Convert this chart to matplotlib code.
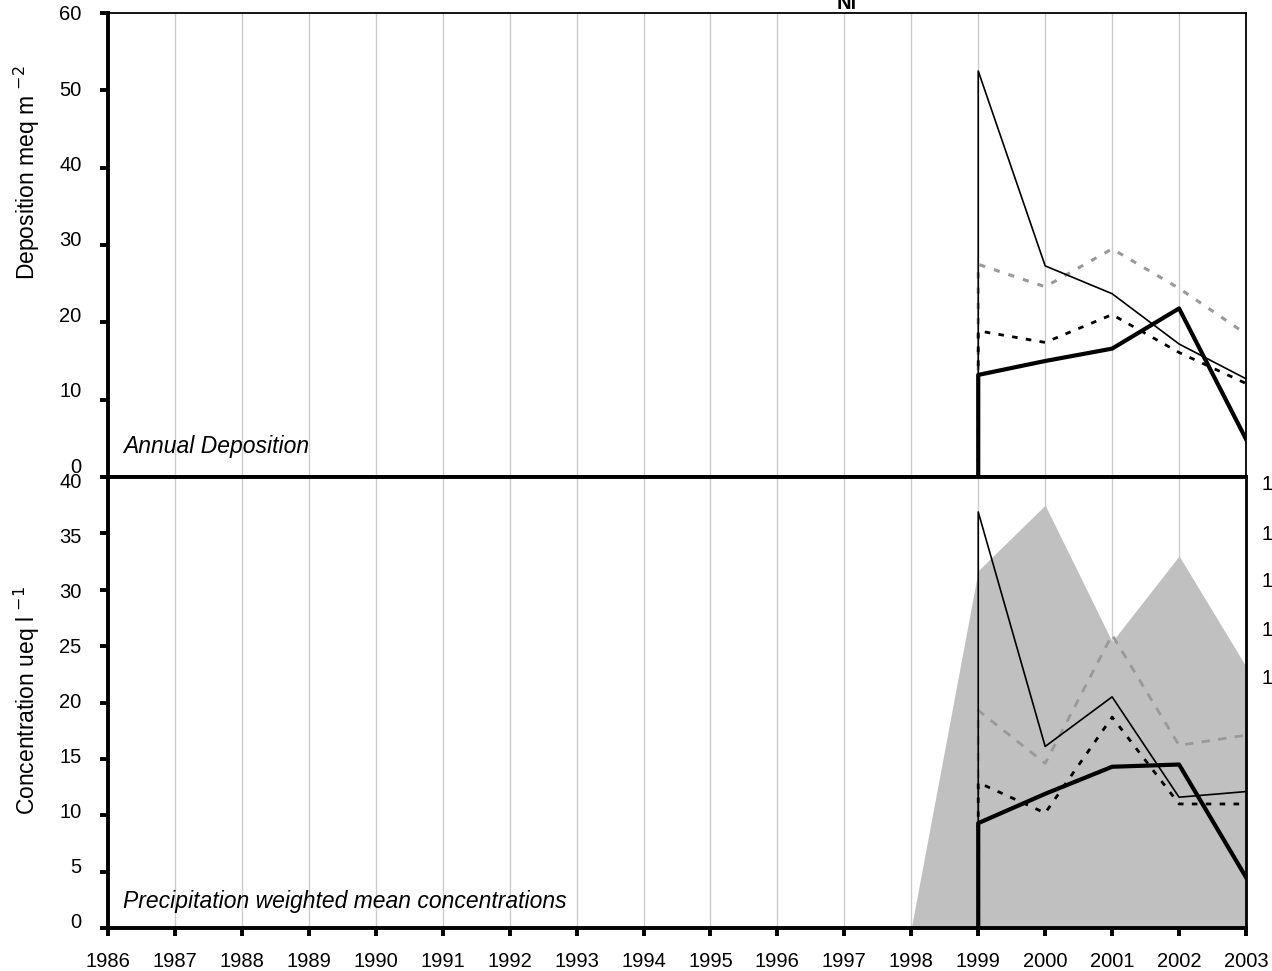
import matplotlib
matplotlib.use("Agg")
import matplotlib.pyplot as plt
from matplotlib.transforms import ScaledTranslation

plt.rcParams['font.family'] = ['Liberation Sans', 'DejaVu Sans']

years = list(range(1986, 2004))
line_years = [1999, 1999, 2000, 2001, 2002, 2003]

# Annual deposition (meq m-2)
dep_thin = [0, 52.5, 27.3, 23.7, 17.2, 12.7]
dep_thick = [0, 13.2, 15.0, 16.6, 21.8, 4.9]
dep_gray = [0, 27.5, 24.6, 29.5, 24.4, 18.5]
dep_dot = [0, 18.9, 17.4, 21.0, 16.1, 12.1]

# Concentrations (ueq l-1)
area_years = [1998, 1999, 2000, 2001, 2002, 2003]
conc_area = [0, 31.7, 37.5, 25.4, 33.0, 23.2]
conc_thin = [0, 36.9, 16.1, 20.5, 11.6, 12.1]
conc_thick = [0, 9.3, 11.9, 14.3, 14.5, 4.5]
conc_gray = [0, 19.3, 14.6, 26.0, 16.2, 17.1]
conc_dot = [0, 12.9, 10.2, 18.7, 11.0, 11.0]

right_labels = ["1", "1", "1", "1", "1"]
right_pos = [39.5, 35.1, 30.9, 26.6, 22.3]

W, H = 1272, 971
fig = plt.figure(figsize=(W / 100, H / 100), dpi=100)
L, R = 108, 1246
ax1 = fig.add_axes([L / W, 1 - 477 / H, (R - L) / W, (477 - 13) / H])
ax2 = fig.add_axes([L / W, 1 - 928 / H, (R - L) / W, (928 - 477) / H])

fs = 14.5
lfs = 16.5
for ax in (ax1, ax2):
    ax.set_xlim(1986, 2003)
    ax.set_xticks(years)
    ax.grid(axis='x', color='#cccccc', linewidth=1)
    ax.set_axisbelow(True)
    ax.spines['left'].set_linewidth(2.8)
    ax.spines['top'].set_linewidth(1.3)
    ax.spines['right'].set_linewidth(1.3)
    ax.tick_params(axis='y', direction='out', length=6, width=2.8, labelsize=fs, pad=13)
    ax.tick_params(axis='x', direction='out', length=6, width=2.8, labelsize=fs, pad=11)

gray_line = '#999999'

# top panel
ax1.plot(line_years, dep_gray, color=gray_line, lw=2.2, ls=(0, (2, 3)), zorder=3)
ax1.plot(line_years, dep_dot, color='black', lw=2.0, ls=(0, (2, 3)), zorder=3)
ax1.plot(line_years, dep_thin, color='black', lw=1.2, zorder=4)
ax1.plot(line_years, dep_thick, color='black', lw=3.0, zorder=5)
ax1.set_ylim(0, 60)
ax1.set_yticks(range(0, 61, 10))
ax1.tick_params(axis='x', length=0, labelbottom=False)
ax1.spines['bottom'].set_linewidth(2.8)
ax1.set_ylabel('Deposition meq m $^{-2}$', fontsize=lfs)
ax1.yaxis.set_label_coords(-0.058, 0.657)
ax1.text(0.013, 0.065, 'Annual Deposition', transform=ax1.transAxes,
         fontsize=lfs, style='italic', va='center', ha='left')

# bottom panel
ax2.fill_between(area_years, conc_area, 0, color='#c0c0c0', lw=0, zorder=1)
ax2.plot(line_years, conc_gray, color=gray_line, lw=2.0, ls=(0, (3, 3)), zorder=3)
ax2.plot(line_years, conc_dot, color='black', lw=2.0, ls=(0, (2, 3)), zorder=3)
ax2.plot(line_years, conc_thin, color='black', lw=1.2, zorder=4)
ax2.plot(line_years, conc_thick, color='black', lw=3.0, zorder=5)
ax2.set_ylim(0, 40)
ax2.set_yticks(range(0, 41, 5))
ax2.spines['bottom'].set_linewidth(2.8)
ax2.spines['top'].set_linewidth(2.8)
ax2.spines['right'].set_linewidth(2.0)
ax2.set_ylabel('Concentration ueq l $^{-1}$', fontsize=lfs)
ax2.yaxis.set_label_coords(-0.058, 0.505)
ax2.text(0.013, 0.058, 'Precipitation weighted mean concentrations',
         transform=ax2.transAxes, fontsize=lfs, style='italic',
         va='center', ha='left')

ax3 = ax2.twinx()
ax3.set_ylim(0, 40)
ax3.set_yticks(right_pos)
ax3.set_yticklabels(right_labels)
ax3.tick_params(axis='y', length=0, labelsize=fs, pad=11)
for s in ax3.spines.values():
    s.set_visible(False)

# Excel-like tick label placement (labels spread slightly differently than ticks)
for t, v in zip(ax1.yaxis.get_major_ticks(), range(0, 61, 10)):
    up = 12 * (60 - v) / 60
    t.label1.set_transform(t.label1.get_transform() +
                           ScaledTranslation(0, up / 100, fig.dpi_scale_trans))
for t, v in zip(ax2.yaxis.get_major_ticks(), range(0, 41, 5)):
    up = -4 + 12 * (40 - v) / 40
    t.label1.set_transform(t.label1.get_transform() +
                           ScaledTranslation(0, up / 100, fig.dpi_scale_trans))

fig.text(847 / W, 1 - 9 / H, 'Ni', fontsize=fs, fontweight='bold',
         ha='center', va='baseline')

fig.savefig('out.png', dpi=100)
